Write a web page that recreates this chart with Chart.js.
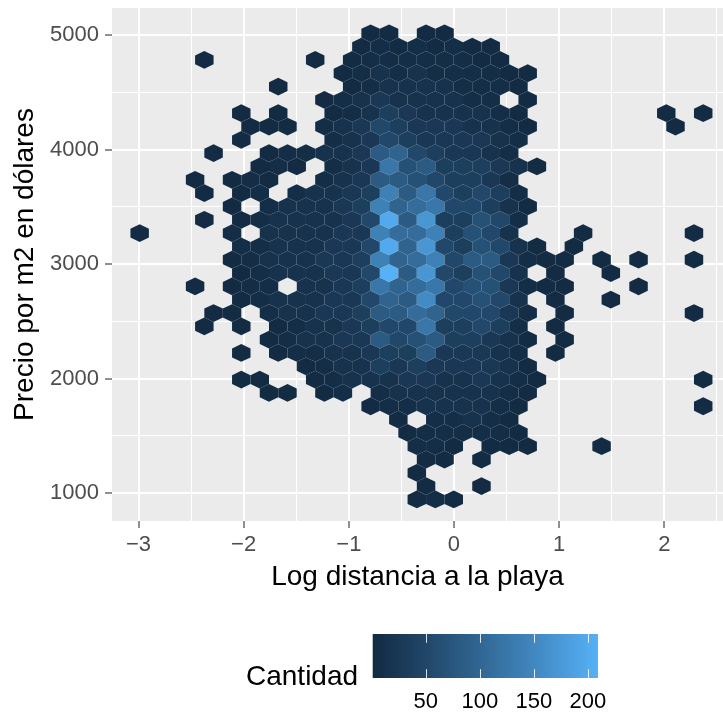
<!DOCTYPE html>
<html>
<head>
<meta charset="utf-8">
<script src="https://cdn.jsdelivr.net/npm/chart.js@4.4.1/dist/chart.umd.min.js"></script>
<style>
  html, body { margin: 0; padding: 0; background: #fff; }
  #wrap { width: 723px; height: 712px; }
</style>
</head>
<body>
<div id="wrap"><canvas id="hexChart" width="723" height="712"></canvas></div>
<script>
// Hexbin cells: one string per hex row (bottom row first),
// one char per column, '.' = empty bin, letters = count level (see LEVELS)
const HEX_ROWS = [
  '...............aba.............',
  '...............a..a............',
  '...............a...............',
  '...............aa.a............',
  '...............bba.aaa...a.....',
  '..............abbbbba..........',
  '..............a.bbcba..........',
  '............abbccccba.........a',
  '.......aa.ab.bccccccba.........',
  '.....aa..abcccddccdcba........a',
  '.........abccededdddca.........',
  '.....a.abbccdeehdddcb.a........',
  '.......abccddhfgheedca.a.......',
  '...a.a.abccdeffkeefeb.a........',
  '....aa.bccddehhjifffdb.a......a',
  '.....abcccddfihmffgfc.a..a.....',
  '...a.abb.ccdekijkfggdbaa...a...',
  '.....abcccddfqhnfegfc.a..a.....',
  '.....abcccddelijlfhhdbaa.a.a..a',
  '.....bbcccddfpinfegfca.a.......',
  'a....b.ccccddljjlegfc...a.....a',
  '...a.abccccdfphneegfb..........',
  '.....a.bcccdelijkffeca.........',
  '...a.ab.bccdelhkfefeb..........',
  '...a.aba..bcdhhgfeedb..........',
  '......aba.bcdkgheeedca.........',
  '....a..abbccdhifeddcb..........',
  '.....a....bcdfeddddcb..........',
  '......aaa.bcdfedddccba.......a.',
  '.....a.a..abcedccccba.......a.a',
  '..........abcdccccbb.a.........',
  '.......a...abccccbbba..........',
  '...........abcbcbbbbaa.........',
  '...a.....a.abbbbbbaa...........',
  '............abababaa...........',
  '............aa.aa..............'
];
const LEVELS = { a: 2, b: 6, c: 14, d: 24, e: 36, f: 50, g: 65, h: 80, i: 95,
                 j: 110, k: 125, l: 140, m: 155, n: 170, o: 185, p: 198, q: 209 };

// hex lattice (data units): first column centre, column step, first row centre, row step
const X_ORIGIN = -2.989, X_STEP = 0.1757;
const Y_ORIGIN = 943, Y_STEP = 116.4;

const X_MAJOR = [-3, -2, -1, 0, 1, 2];
const X_LABELS = ['\u22123', '\u22122', '\u22121', '0', '1', '2'];
const X_MINOR = [-2.5, -1.5, -0.5, 0.5, 1.5, 2.5];
const Y_MAJOR = [1000, 2000, 3000, 4000, 5000];
const Y_LABELS = ['1000', '2000', '3000', '4000', '5000'];
const Y_MINOR = [1500, 2500, 3500, 4500];
const LEGEND_BREAKS = [50, 100, 150, 200];
const COUNT_MIN = 1, COUNT_MAX = 209;

const FONT = '"Liberation Sans", Arial, Helvetica, sans-serif';

// cells
const cells = [];
HEX_ROWS.forEach((row, r) => {
  for (let k = 0; k < row.length; k++) {
    const ch = row[k];
    if (ch === '.') continue;
    cells.push({ x: X_ORIGIN + (k + (r % 2) * 0.5) * X_STEP, y: Y_ORIGIN + r * Y_STEP, n: LEVELS[ch] });
  }
});

// ggplot-style gradient #132B43 -> #56B1F7, interpolated in CIELAB
function toLab(hex) {
  const v = [1, 3, 5].map(i => parseInt(hex.substr(i, 2), 16) / 255)
    .map(c => c <= 0.04045 ? c / 12.92 : Math.pow((c + 0.055) / 1.055, 2.4));
  const X = (v[0] * 0.4124 + v[1] * 0.3576 + v[2] * 0.1805) / 0.95047;
  const Y = (v[0] * 0.2126 + v[1] * 0.7152 + v[2] * 0.0722);
  const Z = (v[0] * 0.0193 + v[1] * 0.1192 + v[2] * 0.9505) / 1.08883;
  const f = t => t > 0.008856 ? Math.cbrt(t) : 7.787 * t + 16 / 116;
  return [116 * f(Y) - 16, 500 * (f(X) - f(Y)), 200 * (f(Y) - f(Z))];
}
function fromLab(L, a, b) {
  const fy = (L + 16) / 116, fx = fy + a / 500, fz = fy - b / 200;
  const g = t => t > 0.206893 ? t * t * t : (t - 16 / 116) / 7.787;
  const X = g(fx) * 0.95047, Y = g(fy), Z = g(fz) * 1.08883;
  const lin = [
     3.2406 * X - 1.5372 * Y - 0.4986 * Z,
    -0.9689 * X + 1.8758 * Y + 0.0415 * Z,
     0.0557 * X - 0.2040 * Y + 1.0570 * Z
  ];
  return 'rgb(' + lin.map(c => {
    c = c <= 0.0031308 ? 12.92 * c : 1.055 * Math.pow(c, 1 / 2.4) - 0.055;
    return Math.round(Math.min(1, Math.max(0, c)) * 255);
  }).join(',') + ')';
}
const LAB_LO = toLab('#132B43'), LAB_HI = toLab('#56B1F7');
function fillFor(n) {
  const t = Math.min(1, Math.max(0, (n - COUNT_MIN) / (COUNT_MAX - COUNT_MIN)));
  return fromLab(...LAB_LO.map((v, i) => v + (LAB_HI[i] - v) * t));
}

const panelBg = {
  id: 'panelBg',
  beforeDraw(chart) {
    const { ctx, chartArea: a } = chart;
    ctx.save();
    ctx.fillStyle = '#EBEBEB';
    ctx.fillRect(a.left, a.top, a.right - a.left, a.bottom - a.top);
    ctx.restore();
  }
};

const hexCells = {
  id: 'hexCells',
  afterDatasetsDraw(chart) {
    const { ctx, chartArea: a } = chart;
    const xs = chart.scales.x, ys = chart.scales.y;
    ctx.save();
    ctx.beginPath();
    ctx.rect(a.left, a.top, a.right - a.left, a.bottom - a.top);
    ctx.clip();
    cells.forEach(c => {
      const xl = xs.getPixelForValue(c.x - X_STEP / 2), xm = xs.getPixelForValue(c.x),
            xr = xs.getPixelForValue(c.x + X_STEP / 2);
      const yT = ys.getPixelForValue(c.y + Y_STEP * 2 / 3), yt = ys.getPixelForValue(c.y + Y_STEP / 3),
            yb = ys.getPixelForValue(c.y - Y_STEP / 3), yB = ys.getPixelForValue(c.y - Y_STEP * 2 / 3);
      ctx.beginPath();
      ctx.moveTo(xm, yT);
      ctx.lineTo(xr, yt);
      ctx.lineTo(xr, yb);
      ctx.lineTo(xm, yB);
      ctx.lineTo(xl, yb);
      ctx.lineTo(xl, yt);
      ctx.closePath();
      ctx.fillStyle = fillFor(c.n);
      ctx.fill();
    });
    ctx.restore();
  }
};

// colour bar legend under the plot
const colourBar = {
  id: 'colourBar',
  afterDraw(chart) {
    const ctx = chart.ctx;
    const x0 = 372.7, x1 = 597.7, y0 = 634, y1 = 678;
    const px = v => x0 + (v - COUNT_MIN) / (COUNT_MAX - COUNT_MIN) * (x1 - x0);
    ctx.save();
    for (let x = x0; x < x1; x += 1) {
      ctx.fillStyle = fillFor(COUNT_MIN + (x + 0.5 - x0) / (x1 - x0) * (COUNT_MAX - COUNT_MIN));
      ctx.fillRect(x, y0, Math.min(1, x1 - x) + 0.3, y1 - y0);
    }
    ctx.strokeStyle = 'rgba(255,255,255,0.85)';
    ctx.lineWidth = 1;
    const tl = (y1 - y0) / 5;
    LEGEND_BREAKS.forEach(v => {
      const x = Math.round(px(v)) + 0.5;
      ctx.beginPath();
      ctx.moveTo(x, y0); ctx.lineTo(x, y0 + tl);
      ctx.moveTo(x, y1 - tl); ctx.lineTo(x, y1);
      ctx.stroke();
    });
    ctx.fillStyle = '#000';
    ctx.font = '22px ' + FONT;
    ctx.textAlign = 'center';
    ctx.textBaseline = 'middle';
    LEGEND_BREAKS.forEach(v => ctx.fillText(String(v), px(v), 702));
    ctx.font = '28px ' + FONT;
    ctx.textAlign = 'left';
    ctx.fillText('Cantidad', 246, 677);
    ctx.restore();
  }
};

function majorOr(list, v) { return list.some(m => Math.abs(m - v) < 1e-9); }

new Chart(document.getElementById('hexChart'), {
  type: 'scatter',
  data: { datasets: [{ data: cells, pointRadius: 0, pointHoverRadius: 0 }] },
  options: {
    responsive: false,
    animation: false,
    devicePixelRatio: 1,
    events: [],
    layout: { padding: { left: 0, right: 0, top: 8, bottom: 111 } },
    plugins: { legend: { display: false }, tooltip: { enabled: false } },
    scales: {
      x: {
        type: 'linear',
        min: -3.252, max: 2.558,
        afterBuildTicks: s => { s.ticks = X_MAJOR.concat(X_MINOR).sort((a, b) => a - b).map(v => ({ value: v })); },
        afterFit: s => { s.height = 80; s.paddingLeft = 0; s.paddingRight = 0; },
        border: { display: false },
        grid: {
          color: '#FFFFFF',
          lineWidth: c => (c.tick && majorOr(X_MAJOR, c.tick.value)) ? 2 : 1,
          drawTicks: true,
          tickLength: 7,
          tickWidth: 1.1,
          tickColor: c => (c.tick && majorOr(X_MAJOR, c.tick.value)) ? '#333333' : 'rgba(0,0,0,0)'
        },
        ticks: {
          autoSkip: false, maxRotation: 0, padding: 4,
          color: '#4D4D4D', font: { family: FONT, size: 22 },
          callback: v => { const i = X_MAJOR.findIndex(m => Math.abs(m - v) < 1e-9); return i < 0 ? '' : X_LABELS[i]; }
        },
        title: { display: true, text: 'Log distancia a la playa', color: '#000',
                 font: { family: FONT, size: 28 }, padding: { top: 0, bottom: 7 } }
      },
      y: {
        type: 'linear',
        min: 755, max: 5238,
        afterBuildTicks: s => { s.ticks = Y_MAJOR.concat(Y_MINOR).sort((a, b) => a - b).map(v => ({ value: v })); },
        afterFit: s => { s.width = 112; s.paddingTop = 0; s.paddingBottom = 0; },
        border: { display: false },
        grid: {
          color: '#FFFFFF',
          lineWidth: c => (c.tick && majorOr(Y_MAJOR, c.tick.value)) ? 2 : 1,
          drawTicks: true,
          tickLength: 7,
          tickWidth: 1.1,
          tickColor: c => (c.tick && majorOr(Y_MAJOR, c.tick.value)) ? '#333333' : 'rgba(0,0,0,0)'
        },
        ticks: {
          autoSkip: false, padding: 6,
          color: '#4D4D4D', font: { family: FONT, size: 22 },
          callback: v => { const i = Y_MAJOR.findIndex(m => Math.abs(m - v) < 1e-9); return i < 0 ? '' : Y_LABELS[i]; }
        },
        title: { display: true, text: 'Precio por m2 en dólares', color: '#000',
                 font: { family: FONT, size: 28 }, padding: { top: 8, bottom: 0 } }
      }
    }
  },
  plugins: [panelBg, hexCells, colourBar]
});
</script>
</body>
</html>
